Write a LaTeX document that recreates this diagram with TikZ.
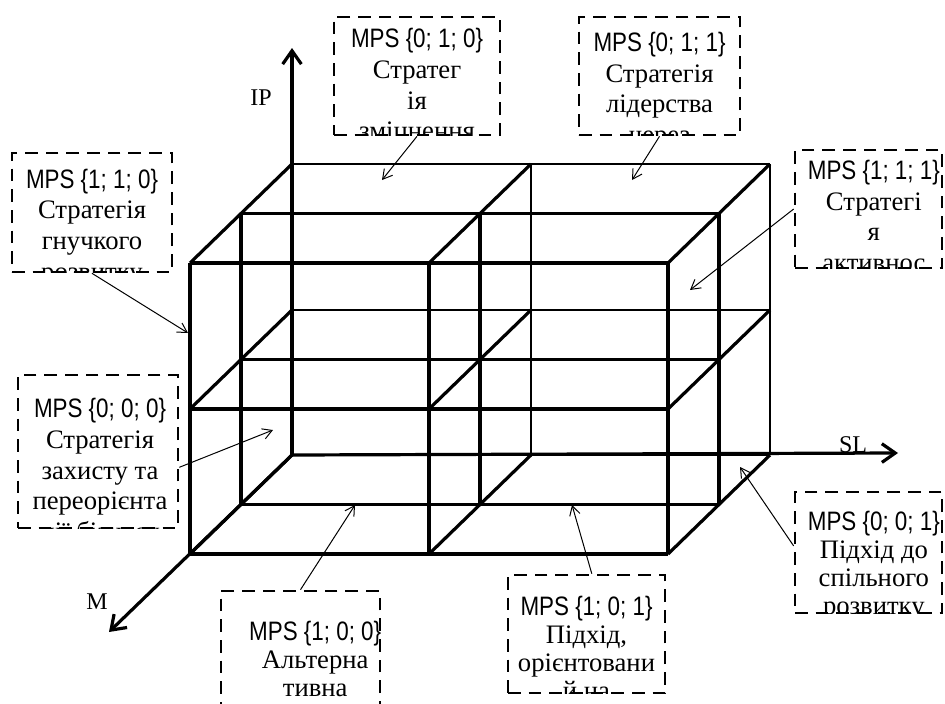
\documentclass[tikz,border=0pt]{standalone}
\usepackage{fontspec}
\setmainfont{Liberation Serif}
\newfontfamily\mpsfont[FakeStretch=0.84]{Liberation Sans}
\usetikzlibrary{arrows.meta}

\tikzset{every picture/.style={line width=0.75pt}}
\tikzset{
  mpsbox/.style={draw, line width=2pt, dash pattern=on 9.5pt off 6pt, inner sep=0pt},
  mpstext/.style={font=\fontsize{20}{23}\selectfont, align=center, inner sep=0pt, anchor=north},
  tighttext/.style={font=\fontsize{20}{21}\selectfont},
  backedge/.style={line width=2pt},
  frontedge/.style={line width=2.6pt},
  depthedge/.style={line width=2.4pt},
  axis/.style={line width=2.4pt, -{Straight Barb[length=10pt,width=14pt]}},
  pointer/.style={line width=0.75pt, -{Straight Barb[length=7pt,width=8pt]}},
  axlabel/.style={font=\fontsize{18}{20}\selectfont, inner sep=0pt},
}

\begin{document}
\begin{tikzpicture}[x=0.75pt,y=0.75pt,yscale=-1,xscale=1]
\useasboundingbox (0,0) rectangle (945,703);

%Lattice: three layers, back to front
\foreach \d/\w in {0/backedge,1/frontedge,2/frontedge} {
  \foreach \x in {292,531,770}
    \draw[\w] ({\x-51*\d},{164+49.5*\d}) -- ({\x-51*\d},{455+49.5*\d});
  \foreach \y in {164,310,455}
    \draw[\w] ({292-51*\d},{\y+49.5*\d}) -- ({770-51*\d},{\y+49.5*\d});
}
%Lattice: depth edges
\foreach \x in {292,531,770}
  \foreach \y in {164,310,455}
    \draw[depthedge] (\x,\y) -- ++(-102,99);

%Axes
\coordinate (o) at (292,455);
\coordinate (ipend) at (292,48);
\coordinate (slend) at (898,453);
\coordinate (mend) at (109,632);
\draw[axis] (o) -- (ipend);
\draw[axis] (o) -- (slend);
\draw[axis] (o) -- (mend);

% Text Node
\node[axlabel] (lip) at (261,98) {IP};
% Text Node
\node[axlabel, anchor=base] (lsl) at (853,452) {SL};
% Text Node
\node[axlabel] (lm) at (97,602) {M};

%Boxes
\node[mpsbox, minimum width=124.5pt, minimum height=88.5pt,
  path picture={\node[mpstext, yshift=-7pt] at (path picture bounding box.north)
    {{\mpsfont MPS \{0; 1; 0\}}\\Стратег\\ія\\зміцнення};}] (b010) at (417,76) {};
\node[mpsbox, minimum width=120.75pt, minimum height=88.5pt,
  path picture={\node[mpstext, yshift=-10.1pt] at (path picture bounding box.north)
    {{\mpsfont MPS \{0; 1; 1\}}\\Стратегія\\лідерства\\через};}] (b011) at (659.5,76) {};
\node[mpsbox, minimum width=120pt, minimum height=89.25pt,
  path picture={\node[mpstext, yshift=-10.1pt] at (path picture bounding box.north)
    {{\mpsfont MPS \{1; 1; 0\}}\\Стратегія\\гнучкого\\розвитку};}] (b110) at (92,212.5) {};
\node[mpsbox, minimum width=110.25pt, minimum height=88.5pt,
  path picture={\node[mpstext, xshift=4pt, yshift=-4.2pt] at (path picture bounding box.north)
    {{\mpsfont MPS \{1; 1; 1\}}\\Стратегі\\я\\активнос};}] (b111) at (868.5,209) {};
\node[mpsbox, minimum width=120pt, minimum height=114.75pt,
  path picture={\node[mpstext, xshift=1.5pt, yshift=-14.6pt] at (path picture bounding box.north)
    {{\mpsfont MPS \{0; 0; 0\}}\\Стратегія\\захисту та\\переорієнта\\ції бізнесу};}] (b000) at (98,451.5) {};
\node[mpsbox, minimum width=110.25pt, minimum height=90.75pt,
  path picture={\node[mpstext, tighttext, xshift=4pt, yshift=-8.6pt] at (path picture bounding box.north)
    {{\mpsfont MPS \{0; 0; 1\}}\\Підхід до\\спільного\\розвитку};}] (b001) at (868.5,552.5) {};
\node[mpsbox, minimum width=119.25pt, minimum height=96.75pt,
  path picture={\node[mpstext, tighttext, xshift=11pt, yshift=-1.6pt] at (path picture bounding box.north)
    {{\mpsfont MPS \{1; 0; 0\}}\\Альтерна\\тивна};}] (b100) at (300.5,655.5) {};
\node[mpsbox, minimum width=117.75pt, minimum height=88.5pt,
  path picture={\node[mpstext, tighttext, yshift=-9.4pt] at (path picture bounding box.north)
    {{\mpsfont MPS \{1; 0; 1\}}\\Підхід,\\орієнтовани\\й на};}] (b101) at (586.5,634) {};

%Pointers into the cells
\coordinate (t010) at (382,180);
\coordinate (t011) at (632,180);
\coordinate (t110) at (188,333);
\coordinate (t111) at (690,290);
\coordinate (t000) at (273,430);
\coordinate (t001) at (740,467);
\coordinate (t100) at (355,505);
\coordinate (t101) at (572,505);
\draw[pointer] (b010.south) -- (t010);
\draw[pointer] (b011.south) -- (t011);
\draw[pointer] (b110.south) -- (t110);
\draw[pointer] (b111.west) -- (t111);
\draw[pointer] (b000.-11) -- (t000);
\draw[pointer] (b001.175) -- (t001);
\draw[pointer] (b100.north) -- (t100);
\draw[pointer] (b101.85) -- (t101);

\end{tikzpicture}
\end{document}
